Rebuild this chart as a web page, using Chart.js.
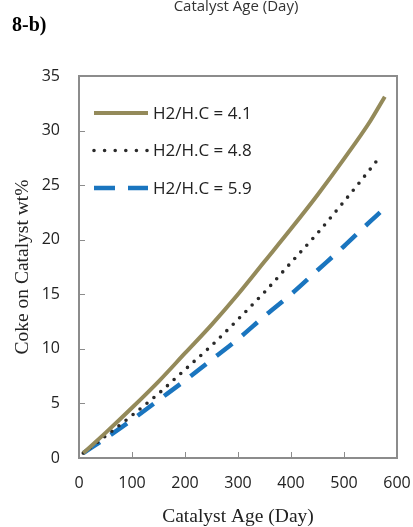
<!DOCTYPE html>
<html>
<head>
<meta charset="utf-8">
<script src="https://cdn.jsdelivr.net/npm/chart.js@4"></script>
<style>
  html, body { margin: 0; padding: 0; background: #fff; }
  #wrap { position: relative; width: 413px; height: 527px; overflow: hidden; }
  #chart { display: block; }
  #cut { position: absolute; left: 0; width: 472px; top: -5px; text-align: center;
         font: 15px "Open Sans", sans-serif; color: #333; }
  #tag { position: absolute; left: 12px; top: 13px; font: bold 20px "Liberation Serif", serif; color: #000; }
</style>
</head>
<body>
<div id="wrap">
  <canvas id="chart" width="413" height="527"></canvas>
  <div id="cut">Catalyst Age (Day)</div>
  <div id="tag">8-b)</div>
</div>
<script>
// catalyst age (days) and coke wt% for each H2/H.C ratio
var days41 = [8, 50, 100, 150, 200, 250, 300, 350, 400, 450, 500, 550, 577];
var coke41 = [0.45, 2.3, 4.6, 7.0, 9.6, 12.2, 15.0, 18.0, 21.0, 24.1, 27.4, 30.9, 33.1];
var days48 = [8, 50, 100, 150, 200, 250, 300, 350, 400, 450, 500, 550, 568];
var coke48 = [0.45, 2.0, 3.9, 5.9, 8.1, 10.3, 12.7, 15.2, 17.9, 20.6, 23.5, 26.5, 27.6];
var days59 = [8, 50, 100, 150, 200, 250, 300, 350, 400, 450, 500, 550, 568];
var coke59 = [0.45, 1.8, 3.5, 5.3, 7.1, 9.0, 10.9, 13.0, 15.0, 17.2, 19.4, 21.7, 22.5];
var seriesLabels = ["H2/H.C = 4.1", "H2/H.C = 4.8", "H2/H.C = 5.9"];
var xTicks = [0, 100, 200, 300, 400, 500, 600];
var yTicks = [0, 5, 10, 15, 20, 25, 30, 35];

function pts(xs, ys) {
  return xs.map(function (x, i) { return { x: x, y: ys[i] }; });
}

var frameColor = "#8c8c8c";

// box round the plot (filled bars), inward tick marks, then the legend inside the plot
var framePlugin = {
  id: "frame",
  afterDraw: function (chart) {
    var c = chart.ctx, a = chart.chartArea;
    var xs = chart.scales.x, ys = chart.scales.y;
    var l = Math.round(a.left), t = Math.round(a.top);
    var r = Math.round(a.right), b = Math.round(a.bottom);
    c.save();
    c.fillStyle = frameColor;
    c.fillRect(l - 1, t - 1, r - l + 2, 2);
    c.fillRect(l - 1, b - 1, r - l + 2, 2);
    c.fillRect(l - 1, t - 1, 2, b - t + 2);
    c.fillRect(r - 1, t - 1, 2, b - t + 2);
    xTicks.forEach(function (v) {
      var px = Math.round(xs.getPixelForValue(v));
      c.fillRect(px, b - 6, 1, 6);
    });
    yTicks.forEach(function (v) {
      var py = Math.round(ys.getPixelForValue(v));
      c.fillRect(l, py, 6, 1);
    });

    chart.data.datasets.forEach(function (ds, i) {
      var y = a.top + 37 + i * 37.5;
      var x0 = a.left + 15, x1 = a.left + 69;
      c.strokeStyle = ds.borderColor;
      c.lineWidth = ds.borderWidth;
      c.lineCap = ds.borderCapStyle || "butt";
      c.setLineDash(ds.legendDash || []);
      c.beginPath(); c.moveTo(x0, y); c.lineTo(x1, y); c.stroke();
      c.setLineDash([]);
      c.fillStyle = "#222";
      c.font = "17px 'Open Sans', sans-serif";
      c.textBaseline = "middle";
      c.fillText(ds.label, x1 + 5, y + 1);
    });
    c.restore();
  }
};

var ctx = document.getElementById("chart").getContext("2d");
var chart = new Chart(ctx, {
  type: "line",
  data: {
    datasets: [
      {
        label: seriesLabels[0],
        data: pts(days41, coke41),
        borderColor: "#948a5a",
        borderWidth: 4,
        legendDash: []
      },
      {
        label: seriesLabels[1],
        data: pts(days48, coke48),
        borderColor: "#2a2a2a",
        borderWidth: 3.6,
        borderCapStyle: "round",
        borderDash: [0, 9],
        legendDash: [0, 10.6]
      },
      {
        label: seriesLabels[2],
        data: pts(days59, coke59),
        borderColor: "#1a75bf",
        borderWidth: 4.5,
        borderDash: [20, 13],
        legendDash: [21, 13]
      }
    ]
  },
  options: {
    responsive: false,
    animation: false,
    layout: { padding: { left: 0, right: 16, top: 76, bottom: 0 } },
    elements: {
      point: { radius: 0 },
      line: { tension: 0.4, cubicInterpolationMode: "monotone" }
    },
    plugins: { legend: { display: false }, tooltip: { enabled: false } },
    scales: {
      x: {
        type: "linear",
        min: 0, max: 600,
        afterBuildTicks: function (s) { s.ticks = xTicks.map(function (v) { return { value: v }; }); },
        afterFit: function (s) { s.height = 69; s.paddingLeft = 0; s.paddingRight = 0; },
        grid: { display: false, drawTicks: false },
        border: { display: false },
        ticks: { color: "#222", padding: 16, font: { family: "'Open Sans', sans-serif", size: 16 } },
        title: {
          display: true, text: "Catalyst Age (Day)", color: "#222",
          font: { family: "'Liberation Serif', serif", size: 19.5, lineHeight: 1 },
          padding: { top: 0, bottom: 0 }
        }
      },
      y: {
        min: 0, max: 35,
        afterBuildTicks: function (s) { s.ticks = yTicks.map(function (v) { return { value: v }; }); },
        afterFit: function (s) { s.width = 79; },
        grid: { display: false, drawTicks: false },
        border: { display: false },
        ticks: { color: "#222", padding: 19, font: { family: "'Open Sans', sans-serif", size: 16 } },
        title: {
          display: true, text: "Coke on Catalyst wt%", color: "#222",
          font: { family: "'Liberation Serif', serif", size: 19.5, lineHeight: 1 },
          padding: { top: 13, bottom: 0 }
        }
      }
    }
  },
  plugins: [framePlugin]
});
</script>
</body>
</html>
